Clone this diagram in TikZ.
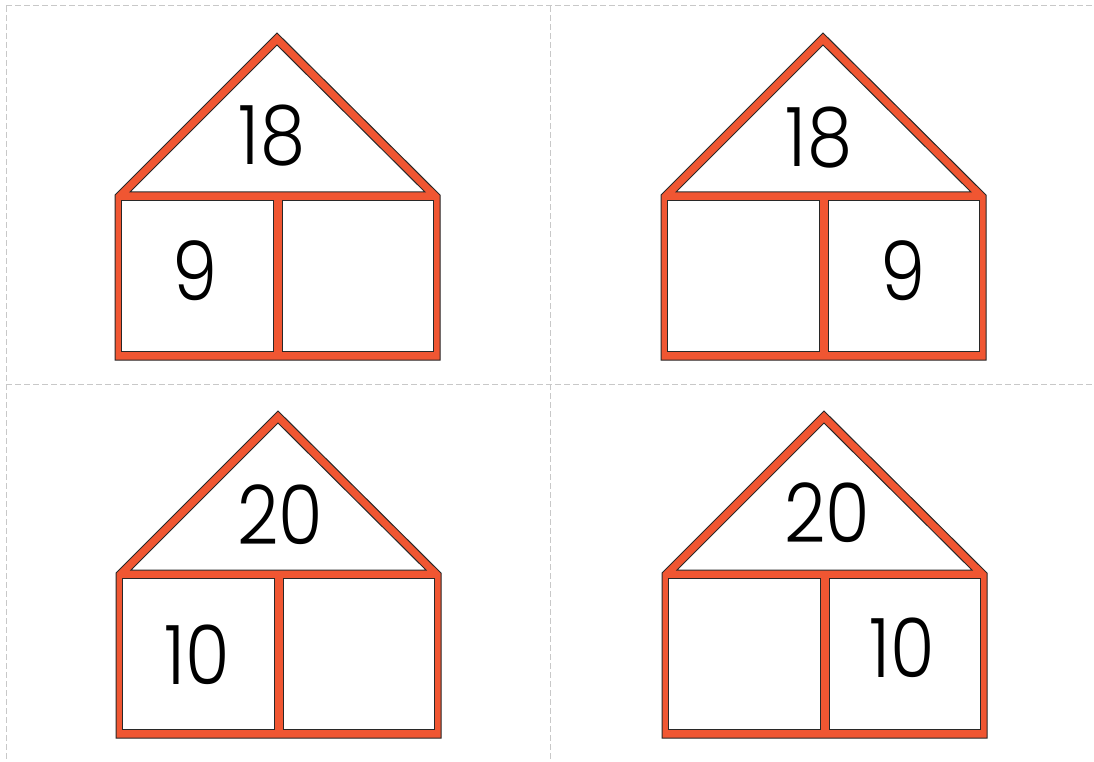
\documentclass[tikz,border=0pt]{standalone}
\usepackage{fontspec}
\setmainfont{Poppins}[UprightFont=* Light]
\definecolor{roofred}{RGB}{240,86,50}
\definecolor{edge}{RGB}{40,40,40}
\definecolor{cutline}{RGB}{200,200,200}
\begin{document}
\begin{tikzpicture}[x=1pt,y=-1pt,
  cut/.style={draw=cutline,line width=1pt,dash pattern=on 6pt off 3pt},
  band/.style={fill=roofred,draw=edge,line width=1pt,line join=miter},
  hole/.style={fill=white,draw=edge,line width=1pt},
  digits/.style={inner sep=0pt,xscale=0.88,font=\fontsize{82}{98}\selectfont}]
\useasboundingbox (0,0) rectangle (1094,762);
% cutting lines
\draw[cut] (6,6) -- (1094,6);
\draw[cut] (6,6) -- (6,762);
\draw[cut] (550,6) -- (550,762);
\draw[cut] (6,384) -- (1094,384);
% houses
\foreach \dx/\dy/\n in {0/0/a,546/0/b,1/378/c,547/378/d}{
  \begin{scope}[shift={(\dx,\dy)}]
    \path[band] (115,195) -- (277,33) -- (440,195) -- (440,360) -- (115,360) -- cycle;
    \path[hole] (130,192) -- (277,45) -- (425,192) -- cycle;
    \path[hole] (121,200) rectangle (273,351);
    \path[hole] (282,200) rectangle (433,351);
  \end{scope}
}
% numbers
\node[digits] (a1) at (272,136) {18};
\node[digits] (a2) at (195,271) {9};
\node[digits] (b1) at (819,138) {18};
\node[digits] (b2) at (903,271) {9};
\node[digits] (c1) at (280,515) {20};
\node[digits] (c2) at (197,655) {10};
\node[digits] (d1) at (827,513) {20};
\node[digits] (d2) at (902,648) {10};
\end{tikzpicture}
\end{document}
